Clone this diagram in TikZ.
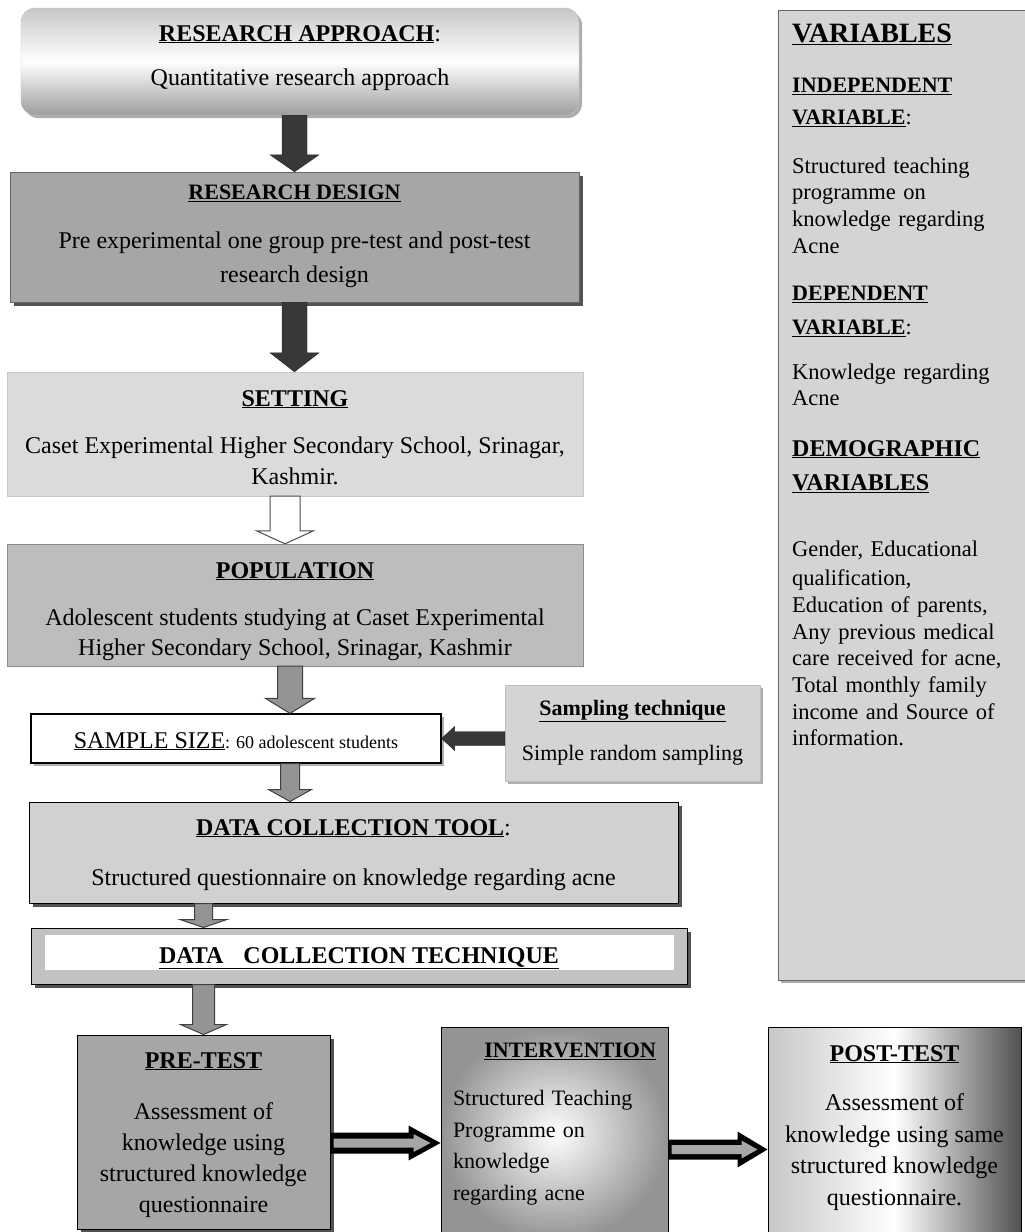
\documentclass[tikz,border=0pt]{standalone}
\usepackage{fontspec}
\setmainfont{Liberation Serif}
\usetikzlibrary{calc,shadows}

% underlined bold heading
\newcommand{\ttl}[1]{\underline{\textbf{#1}}}
% block arrow pointing down, from #2 to #3
\newcommand{\downarr}[6]{%
  \path[#1] let \p1=#2, \p2=#3 in
    (\x1-#4,\y1) -- (\x1-#4,\y2+#6) -- (\x1-#5,\y2+#6) -- (\x1,\y2)
    -- (\x1+#5,\y2+#6) -- (\x1+#4,\y2+#6) -- (\x1+#4,\y1) -- cycle;}
% block arrow pointing left or right, from #2 to #3
\newcommand{\sidearr}[6]{%
  \path[#1] let \p1=#2, \p2=#3, \n1={(\x2-\x1)/abs(\x2-\x1)}, \n2={\x2-\n1*#6} in
    (\x1,\y1-#4) -- (\n2,\y1-#4) -- (\n2,\y1-#5) -- (\x2,\y1)
    -- (\n2,\y1+#5) -- (\n2,\y1+#4) -- (\x1,\y1+#4) -- cycle;}

\begin{document}
\begin{tikzpicture}[x=1pt, y=-1pt,
  box/.style={draw=black, inner sep=0pt, align=center, anchor=base, font=\fontsize{24}{30}\selectfont},
  hardshadow/.style={drop shadow={shadow xshift=4pt, shadow yshift=-4pt, fill=black!75, opacity=.9}},
  softshadow/.style={drop shadow={shadow xshift=3pt, shadow yshift=-3pt, fill=black!45, opacity=.7}},
  darkarr/.style={fill=black!78, draw=black!85},
  greyarr/.style={fill=black!42, draw=black!75, line width=1pt},
  hollowarr/.style={fill=white, draw=black!70, line width=1pt}]

\useasboundingbox (0,0) rectangle (1025,1232);

% main flow (each box sits on the baseline of its last line)
\node[box, minimum width=558pt, text height=77.5pt, text depth=29.5pt, rounded corners=14pt,
  draw=black!25, top color=black!22, bottom color=black!38, middle color=white, softshadow]
  (app) at (300,85.5) {\ttl{RESEARCH APPROACH}:\\[14.5pt]Quantitative research approach};
\node[box, minimum width=569pt, text height=110.5pt, text depth=19.5pt, fill=black!35,
  draw=black!60, hardshadow, font=\fontsize{24}{34}\selectfont]
  (des) at (294.5,282.5) {{\fontsize{22}{26}\selectfont\ttl{RESEARCH DESIGN}}\\[15pt]
  Pre experimental one group pre-test and post-test\\research design};
\node[box, minimum width=576pt, text height=112.5pt, text depth=11.5pt, fill=black!14,
  draw=black!22, font=\fontsize{24}{31}\selectfont]
  (set) at (295,484.5) {\ttl{SETTING}\\[16.5pt]
  Caset Experimental Higher Secondary School, Srinagar,\\Kashmir.};
\node[box, minimum width=576pt, text height=111.5pt, text depth=10.5pt, fill=black!26,
  draw=black!45]
  (pop) at (295,655.5) {\ttl{POPULATION}\\[17.5pt]
  Adolescent students studying at Caset Experimental\\Higher Secondary School, Srinagar, Kashmir};
\node[box, minimum width=410pt, text height=34pt, text depth=15pt, fill=white,
  line width=1.2pt, softshadow]
  (sample) at (236,748) {\underline{SAMPLE SIZE}{\fontsize{18}{20}\selectfont: 60 adolescent students}};
\node[box, minimum width=255pt, text height=75.5pt, text depth=20.5pt, fill=black!17,
  draw=black!25, softshadow, font=\fontsize{22}{26}\selectfont]
  (samp) at (632.5,760.5) {\ttl{Sampling technique}\\[19.5pt]Simple random sampling};
\node[box, minimum width=649pt, text height=83.5pt, text depth=17.5pt, fill=black!18,
  line width=1pt, hardshadow]
  (tool) at (353.5,885.5) {\ttl{DATA COLLECTION TOOL}:\\[20.5pt]
  Structured questionnaire on knowledge regarding acne};
\node[box, minimum width=656pt, text height=35pt, text depth=21pt, fill=black!24,
  line width=1pt, hardshadow,
  path picture={\fill[white] ([xshift=14pt,yshift=-7pt]path picture bounding box.north west)
    rectangle ([xshift=-13pt,yshift=14pt]path picture bounding box.south east);}]
  (tech) at (359,963) {\ttl{DATA\hspace{20pt}COLLECTION TECHNIQUE}};

% bottom row
\node[box, minimum width=253pt, text height=177pt, text depth=17pt, fill=black!35,
  line width=1pt, hardshadow, font=\fontsize{24}{31}\selectfont]
  (pre) at (203.5,1212) {\ttl{PRE-TEST}\\[20pt]Assessment of\\knowledge using\\
  structured knowledge\\questionnaire};
\node[box, minimum width=227pt, text width=203pt, inner xsep=12pt, text height=30pt,
  text depth=183pt, align=left, inner color=white, outer color=black!42, line width=1pt,
  font=\fontsize{22}{31.5}\selectfont]
  (int) at (554.5,1057) {\hspace*{\fill}\ttl{INTERVENTION}\hspace*{\fill}\\[17pt]
  Structured Teaching\\Programme on\\knowledge\\regarding acne};
\node[box, minimum width=253pt, text height=178pt, text depth=33pt, left color=black!22,
  right color=black!68, middle color=white, line width=1pt,
  font=\fontsize{24}{31.5}\selectfont]
  (post) at (894.5,1205) {\ttl{POST-TEST}\\[18pt]Assessment of\\knowledge using same\\
  structured knowledge\\questionnaire.};

% variables panel
\node[draw=black!60, fill=black!17, softshadow, text width=226pt, inner xsep=14pt,
  inner ysep=0pt, text height=32.3pt, text depth=937.7pt, anchor=base west, align=left,
  font=\fontsize{22.5}{26.7}\selectfont]
  (var) at (778,42.3) {%
  {\fontsize{28}{26.7}\selectfont\ttl{VARIABLES}}\\[23.3pt]
  {\fontsize{22}{26.7}\selectfont\ttl{INDEPENDENT}}\\[5.3pt]
  {\fontsize{22}{26.7}\selectfont\ttl{VARIABLE}:}\\[22pt]
  Structured teaching\\programme on\\knowledge regarding\\Acne\\[20.5pt]
  {\fontsize{22}{26.7}\selectfont\ttl{DEPENDENT}}\\[7.3pt]
  {\fontsize{22}{26.7}\selectfont\ttl{VARIABLE}:}\\[18pt]
  Knowledge regarding\\Acne\\[23.6pt]
  {\fontsize{24}{26.7}\selectfont\ttl{DEMOGRAPHIC}}\\[7.3pt]
  {\fontsize{24}{26.7}\selectfont\ttl{VARIABLES}}\\[39.3pt]
  Gender, Educational\\[3pt]qualification,\\Education of parents,\\Any previous medical\\
  care received for acne,\\Total monthly family\\income and Source of\\information.};

% connectors
\coordinate (p1) at ([yshift=-11pt]pre.east);
\coordinate (q1) at (int.west |- p1);
\coordinate (p2) at ([yshift=-16pt]int.east);
\coordinate (q2) at (post.west |- p2);
\coordinate (p3) at (samp.west |- sample.east);
\coordinate (popx) at ([xshift=-5pt]pop.south);
\coordinate (setx) at ([xshift=-10pt]set.south);

\downarr{darkarr}{(app.south -| des.north)}{(des.north)}{12.5pt}{24.5pt}{17pt}
\downarr{darkarr}{(des.south)}{(set.north)}{12.5pt}{24.5pt}{19pt}
\downarr{hollowarr}{(setx)}{(pop.north -| setx)}{15pt}{28.5pt}{13pt}
\downarr{greyarr}{(popx)}{(sample.north -| popx)}{12.5pt}{24.5pt}{15pt}
\downarr{greyarr}{(sample.south -| popx)}{(tool.north -| popx)}{9.5pt}{21.5pt}{12pt}
\downarr{greyarr}{(tool.south -| pre.north)}{(tech.north -| pre.north)}{9pt}{23.5pt}{8pt}
\downarr{greyarr}{(tech.south -| pre.north)}{(pre.north)}{11pt}{23pt}{10pt}
\sidearr{darkarr}{(p3)}{(sample.east)}{7pt}{12pt}{13pt}
\sidearr{fill=black}{(p1)}{(q1)}{10.5pt}{17.5pt}{32pt}
\sidearr{fill=black!35}{([xshift=3pt]p1)}{([xshift=-10pt]q1)}{4.5pt}{9pt}{17pt}
\sidearr{fill=black}{(p2)}{(q2)}{10pt}{18pt}{30pt}
\sidearr{fill=black!35}{([xshift=3pt]p2)}{([xshift=-10pt]q2)}{4.5pt}{9pt}{16pt}
\end{tikzpicture}
\end{document}
